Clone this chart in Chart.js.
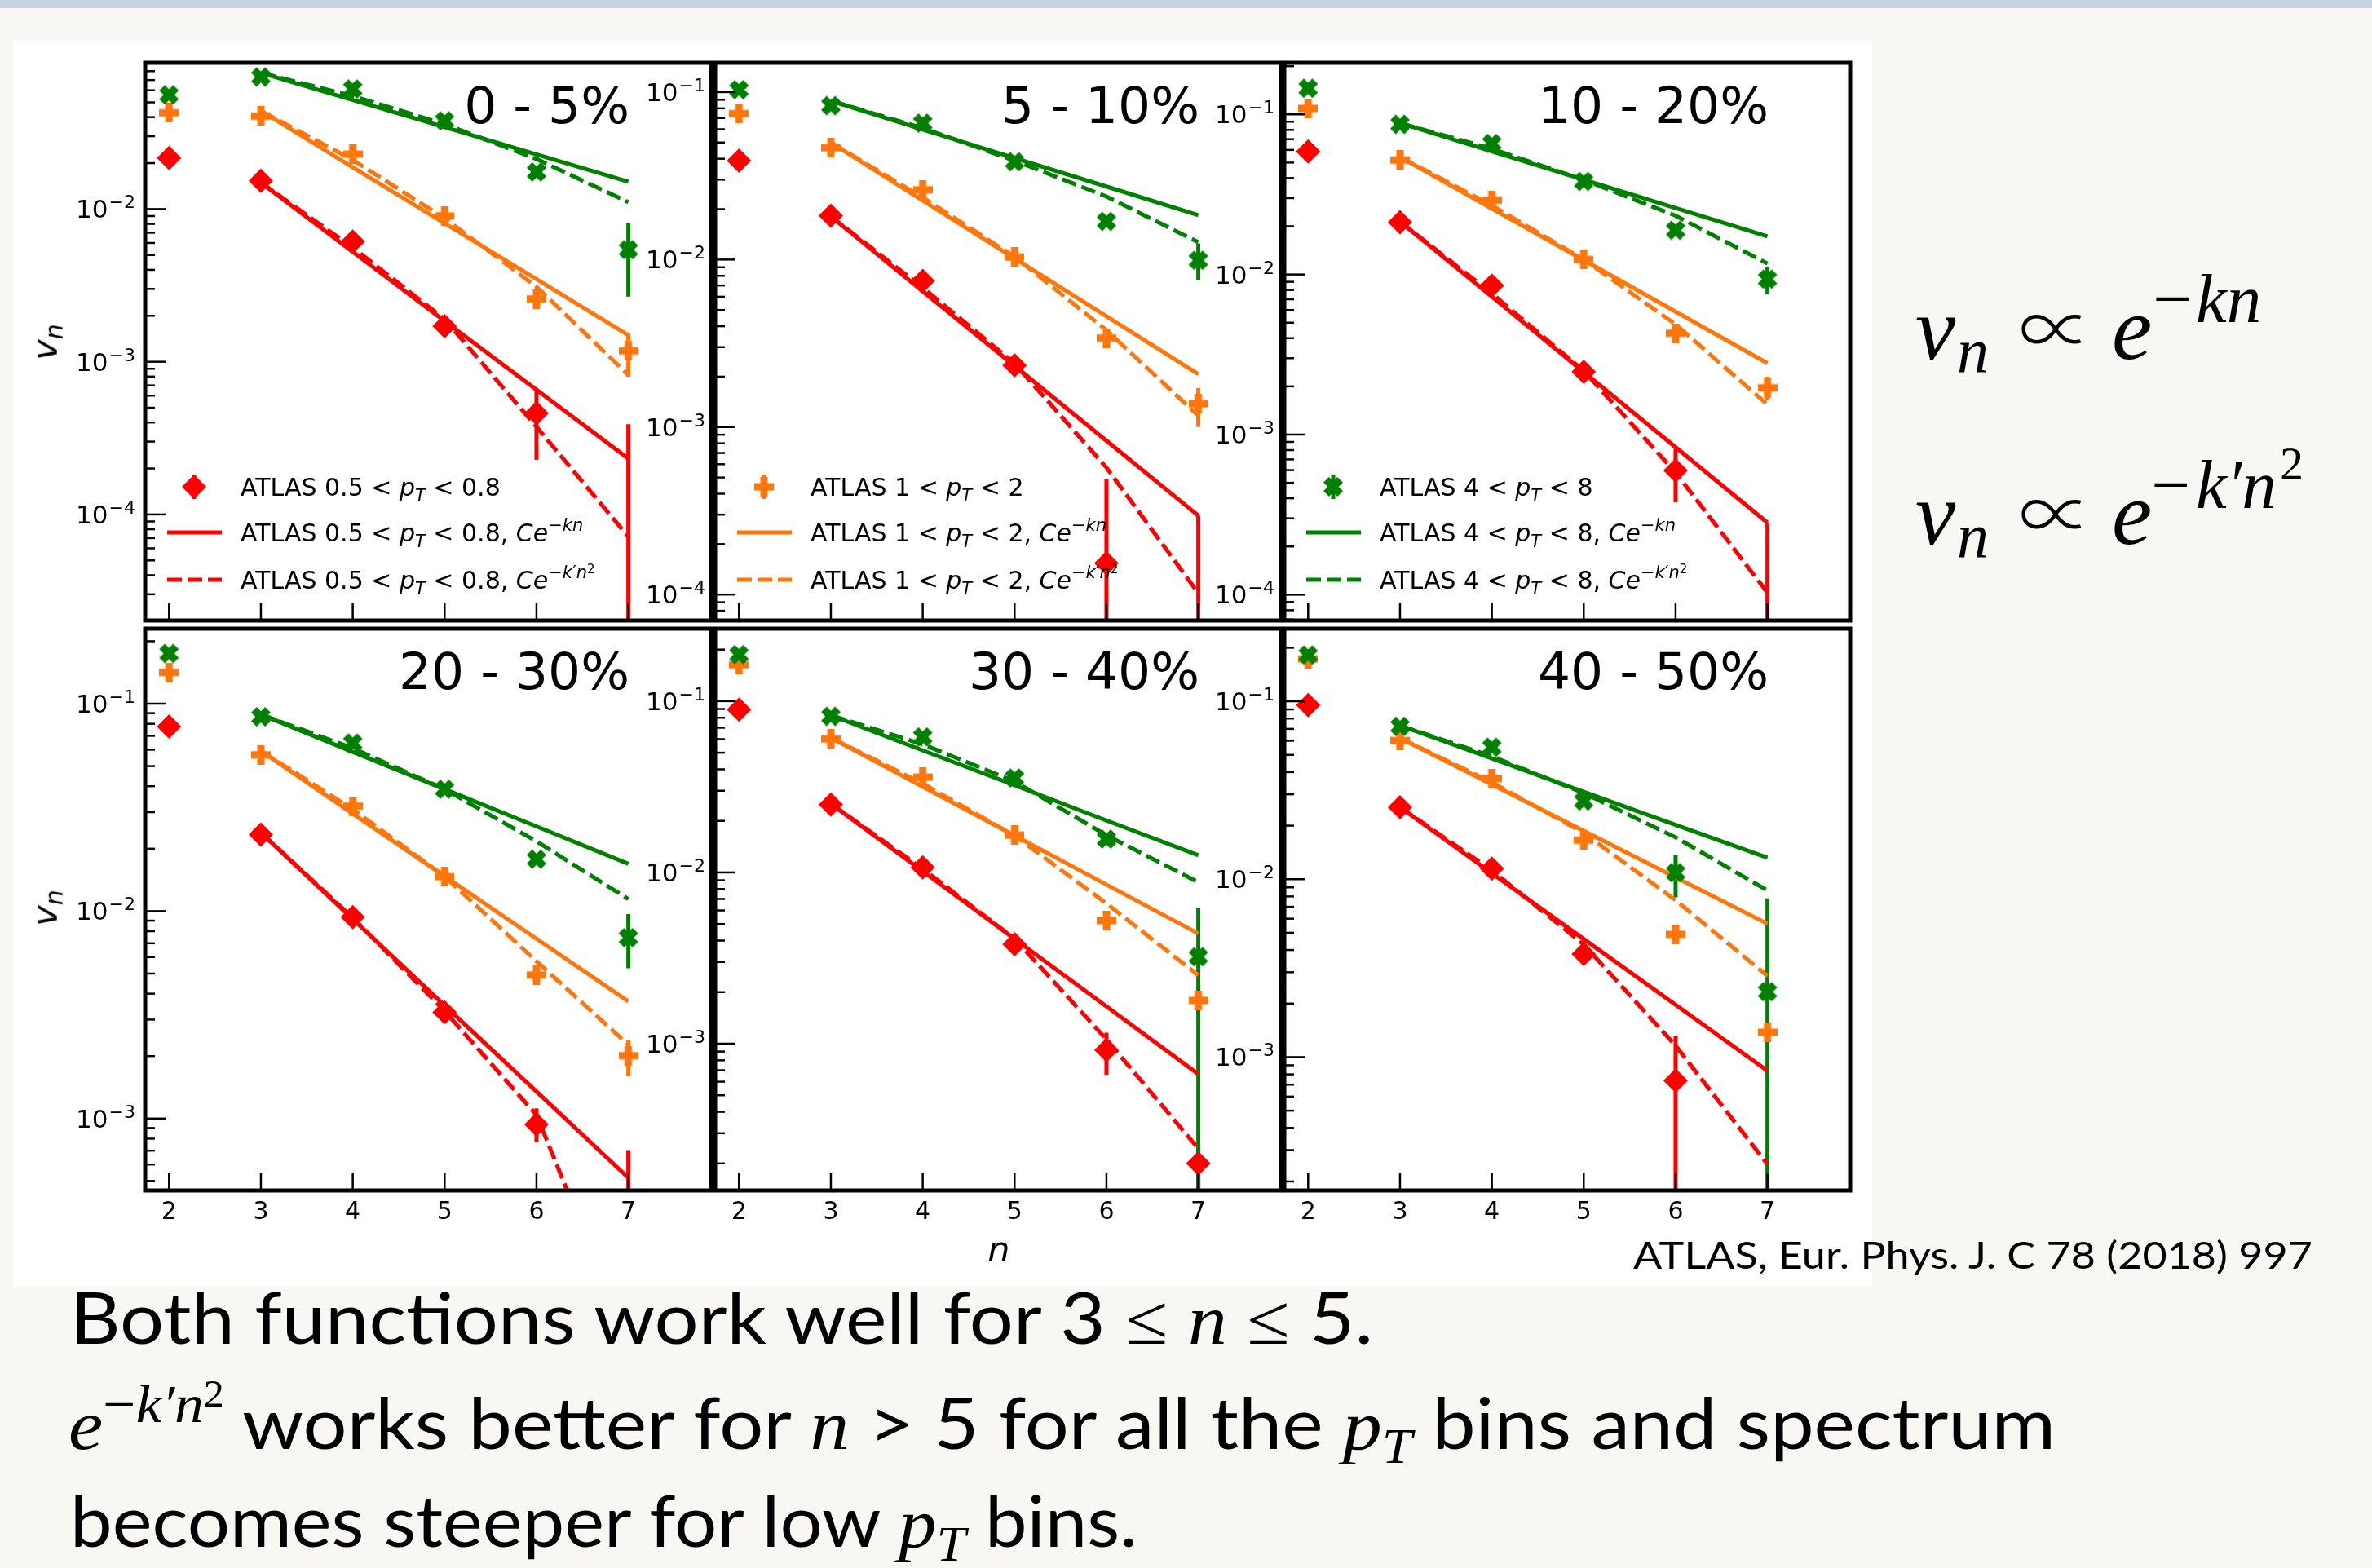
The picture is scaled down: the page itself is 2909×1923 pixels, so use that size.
<!DOCTYPE html>
<html>
<head>
<meta charset="utf-8">
<title>ATLAS v_n vs n</title>
<script src="https://cdn.jsdelivr.net/npm/chart.js@4.4.1/dist/chart.umd.min.js"></script>
<style>
  html,body{margin:0;padding:0;}
  body{width:2909px;height:1923px;background:#f8f7f4;position:relative;overflow:hidden;}
  #band{position:absolute;left:0;top:0;width:2909px;height:10px;background:#c5d2df;}
  #figure{position:absolute;left:16px;top:50px;width:2280px;height:1528px;background:#ffffff;}
  canvas{position:absolute;}
  .t{position:absolute;white-space:nowrap;line-height:1;color:#000;}
  .sans{font-family:Lato,"Open Sans",sans-serif;}
  .dv{font-family:"DejaVu Sans",sans-serif;}
  .m{font-family:"Liberation Serif","DejaVu Serif",serif;font-style:italic;}
  .prop{font-family:"DejaVu Sans ExtraLight","Noto Sans CJK JP","DejaVu Serif",serif;font-weight:200;font-style:normal;}
  .up{font-style:normal;}
  .sup{position:relative;top:-0.5em;font-size:0.75em;}
  .sup2{position:relative;top:-0.42em;font-size:0.7em;font-style:normal;}
  .sub{position:relative;top:0.28em;font-size:0.7em;}
  .dsub{position:relative;top:0.22em;font-size:0.7em;}
</style>
</head>
<body>
<div id="band"></div>
<div id="figure"></div>
<script>
// ---------------- data ----------------
const harmonicOrder = [2, 3, 4, 5, 6, 7];
const fitOrder = [3, 4, 5, 6, 7];
const centralityBins = ['0 - 5%', '5 - 10%', '10 - 20%', '20 - 30%', '30 - 40%', '40 - 50%'];
const ptBinEdges = [['0.5', '0.8'], ['1', '2'], ['4', '8']];
const yAxisMin = [2.02e-5, 7.1e-5, 6.9e-5, 4.5e-4, 1.39e-4, 1.78e-4];
const yAxisMax = [0.0908, 0.1496, 0.21, 0.23, 0.265, 0.256];
const xAxisRange = [1.74, 7.9];

// ATLAS 0.5 < pT < 0.8 (red), rows = centrality bins, columns = n = 2..7
const vnLowPt = [
  [0.0216, 0.0153, 0.00612, 0.00171, 4.6e-4, null],
  [0.039, 0.0183, 0.00745, 0.00234, 1.54e-4, null],
  [0.0586, 0.0212, 0.00853, 0.00247, 5.97e-4, null],
  [0.0776, 0.0234, 0.00935, 0.00325, 9.37e-4, null],
  [0.0892, 0.0249, 0.0107, 0.00381, 9.19e-4, 2.0e-4],
  [0.0951, 0.0254, 0.01146, 0.0038, 7.38e-4, null]
];
// ATLAS 1 < pT < 2 (orange)
const vnMidPt = [
  [0.0427, 0.0406, 0.0229, 0.0090, 0.00258, 0.00118],
  [0.0744, 0.0465, 0.0261, 0.01035, 0.0034, 0.00138],
  [0.109, 0.0518, 0.0291, 0.0124, 0.0043, 0.00196],
  [0.1415, 0.0567, 0.0321, 0.01466, 0.00492, 0.00201],
  [0.163, 0.0602, 0.036, 0.01653, 0.00524, 0.00179],
  [0.173, 0.0602, 0.0368, 0.01657, 0.0049, 0.00138]
];
// ATLAS 4 < pT < 8 (green)
const vnHighPt = [
  [0.0560, 0.0733, 0.0612, 0.0378, 0.0175, 0.00542],
  [0.1033, 0.083, 0.0652, 0.0384, 0.0169, 0.0099],
  [0.1456, 0.0867, 0.0659, 0.0381, 0.0189, 0.00935],
  [0.1746, 0.0865, 0.0646, 0.0387, 0.0178, 0.00745],
  [0.187, 0.0815, 0.0618, 0.0356, 0.01567, 0.00322],
  [0.182, 0.0723, 0.0552, 0.0275, 0.01087, 0.00233]
];
// visible error bars [low, high] (null = hidden by marker)
const errLowPt = [
  [null, null, null, null, [2.28e-4, 6.65e-4], [1e-6, 3.9e-4]],
  [null, null, null, null, [1e-6, 4.87e-4], [1e-6, 2.96e-4]],
  [null, null, null, null, [3.77e-4, 8.2e-4], [1e-6, 2.82e-4]],
  [null, null, null, null, [7.7e-4, 1.12e-3], [1e-6, 7.05e-4]],
  [null, null, null, null, [6.58e-4, 1.16e-3], [1e-6, 2.5e-4]],
  [null, null, null, null, [1e-6, 1.32e-3], null]
];
const errMidPt = [
  [null, null, null, null, null, [7.98e-4, 1.53e-3]],
  [null, null, null, null, null, [1.0e-3, 1.71e-3]],
  [null, null, null, null, null, [1.64e-3, 2.3e-3]],
  [null, null, null, null, [4.4e-3, 5.5e-3], [1.6e-3, 2.39e-3]],
  [null, null, null, null, null, [1.5e-3, 2.2e-3]],
  [null, null, null, null, null, null]
];
const errHighPt = [
  [null, null, null, null, null, [2.67e-3, 8.14e-3]],
  [null, null, null, null, null, [7.5e-3, 1.25e-2]],
  [null, null, null, null, null, [7.5e-3, 1.12e-2]],
  [null, null, null, null, null, [5.3e-3, 9.68e-3]],
  [null, null, null, null, null, [1e-6, 6.24e-3]],
  [null, null, null, null, [7.9e-3, 1.37e-2], [1e-6, 7.8e-3]]
];
// fits, n = 3..7 : Ce^{-kn} (solid) and Ce^{-k'n^2} (dashed)
const expFitLowPt = [
  [0.0149, 0.00525, 0.00185, 6.55e-4, 2.32e-4],
  [0.0181, 0.00647, 0.00232, 8.29e-4, 2.96e-4],
  [0.0214, 0.00726, 0.00246, 8.34e-4, 2.82e-4],
  [0.0239, 0.00916, 0.00351, 0.00135, 5.18e-4],
  [0.0252, 0.01016, 0.00409, 0.00165, 6.64e-4],
  [0.0254, 0.0108, 0.00461, 0.00197, 8.38e-4]
];
const gausFitLowPt = [
  [0.0149, 0.0056, 0.0019, 3.75e-4, 7.15e-5],
  [0.0181, 0.0068, 0.0024, 5.73e-4, 1.02e-4],
  [0.0214, 0.0076, 0.0025, 5.8e-4, 1.03e-4],
  [0.0239, 0.0093, 0.0033, 1.04e-3, 8.5e-5],
  [0.0252, 0.0105, 0.0041, 1.06e-3, 2.44e-4],
  [0.0254, 0.0112, 0.0043, 1.16e-3, 2.5e-4]
];
const expFitMidPt = [
  [0.0440, 0.0188, 0.00807, 0.00347, 0.00149],
  [0.0499, 0.0225, 0.01017, 0.00459, 0.00207],
  [0.0542, 0.0258, 0.0123, 0.00586, 0.00279],
  [0.0592, 0.0295, 0.01473, 0.00736, 0.00367],
  [0.0612, 0.0317, 0.0164, 0.00849, 0.0044],
  [0.0621, 0.0341, 0.01867, 0.01025, 0.00562]
];
const gausFitMidPt = [
  [0.0440, 0.0210, 0.0087, 0.0031, 8.2e-4],
  [0.0499, 0.0235, 0.0104, 0.00379, 0.00117],
  [0.0542, 0.027, 0.0124, 0.00488, 0.00154],
  [0.0592, 0.031, 0.0147, 0.00573, 0.00227],
  [0.0612, 0.033, 0.0164, 0.00659, 0.00251],
  [0.0621, 0.035, 0.0182, 0.00762, 0.00286]
];
const expFitHighPt = [
  [0.078, 0.0518, 0.0344, 0.0228, 0.0151],
  [0.0887, 0.0598, 0.0404, 0.0273, 0.0184],
  [0.0882, 0.0587, 0.0391, 0.026, 0.0173],
  [0.0888, 0.0586, 0.0387, 0.0256, 0.0169],
  [0.0827, 0.0516, 0.0323, 0.0201, 0.0126],
  [0.0731, 0.0477, 0.031, 0.0202, 0.0132]
];
const gausFitHighPt = [
  [0.078, 0.055, 0.036, 0.0213, 0.0111],
  [0.0887, 0.061, 0.039, 0.0238, 0.0127],
  [0.0882, 0.061, 0.039, 0.0233, 0.0117],
  [0.0888, 0.061, 0.0387, 0.0217, 0.01143],
  [0.0827, 0.056, 0.034, 0.0165, 0.00877],
  [0.0731, 0.049, 0.0305, 0.0172, 0.00865]
];

// ---------------- styling ----------------
const RED = '#ff0000', ORANGE = '#ff760d', GREEN = '#008000';
const LINE_W = 5, DASH = [18, 7];
Chart.defaults.font.family = '"DejaVu Sans", sans-serif';
Chart.defaults.color = '#000';

function plusMarker(color, size, arm) {
  const c = document.createElement('canvas');
  c.width = c.height = size;
  const g = c.getContext('2d');
  g.fillStyle = color;
  const t0 = (size - arm) / 2;
  g.fillRect(t0, 0, arm, size);
  g.fillRect(0, t0, size, arm);
  return c;
}
function xMarker(color, size, armRatio) {
  const c = document.createElement('canvas');
  c.width = c.height = size + 2;
  const g = c.getContext('2d');
  g.fillStyle = color;
  g.translate(c.width / 2, c.height / 2);
  g.rotate(Math.PI / 4);
  const len = size * Math.SQRT2 / (1 + armRatio), t = len * armRatio;
  g.fillRect(-t / 2, -len / 2, t, len);
  g.fillRect(-len / 2, -t / 2, len, t);
  return c;
}

const series = [
  { color: RED, vn: vnLowPt, err: errLowPt, exp: expFitLowPt, gaus: gausFitLowPt, marker: 'rectRot', order: 3 },
  { color: ORANGE, vn: vnMidPt, err: errMidPt, exp: expFitMidPt, gaus: gausFitMidPt, marker: plusMarker(ORANGE, 24, 9), order: 2 },
  { color: GREEN, vn: vnHighPt, err: errHighPt, exp: expFitHighPt, gaus: gausFitHighPt, marker: xMarker(GREEN, 24, 0.4), order: 1 }
];

const PANEL_LEFT = [178, 877, 1575];
const PANEL_TOP = [72, 766];
const PANEL_W = 699, PANEL_H = 694;
const PAD_L = 110, PAD_R = 10, PAD_T = 10;

function drawRich(ctx, x, y, segs, base) {
  for (const s of segs) {
    const size = base * (s.sz || 1);
    ctx.font = (s.it ? 'italic ' : '') + size + 'px "DejaVu Sans"';
    ctx.fillText(s.t, x, y + (s.dy || 0) * base);
    x += ctx.measureText(s.t).width;
  }
}
function legendSegs(col, kind) {
  const [lo, hi] = ptBinEdges[col];
  const segs = [{ t: 'ATLAS ' + lo + ' < ' }, { t: 'p', it: 1 }, { t: 'T', it: 1, sz: 0.7, dy: 0.22 }, { t: ' < ' + hi }];
  if (kind === 1) segs.push({ t: ', ' }, { t: 'Ce', it: 1 }, { t: '\u2212kn', it: 1, sz: 0.7, dy: -0.42 });
  if (kind === 2) segs.push({ t: ', ' }, { t: 'Ce', it: 1 }, { t: '\u2212k\u2032n', it: 1, sz: 0.7, dy: -0.42 }, { t: '2', sz: 0.5, dy: -0.62 });
  return segs;
}
function drawLegendMarker(ctx, style, color, x, y) {
  ctx.strokeStyle = color; ctx.lineWidth = LINE_W; ctx.setLineDash([]);
  ctx.beginPath(); ctx.moveTo(x, y - 15); ctx.lineTo(x, y + 15); ctx.stroke();
  ctx.fillStyle = color;
  if (typeof style === 'string') {
    const r = 15;
    ctx.beginPath(); ctx.moveTo(x, y - r); ctx.lineTo(x + r, y); ctx.lineTo(x, y + r); ctx.lineTo(x - r, y); ctx.closePath(); ctx.fill();
  } else {
    ctx.drawImage(style, x - style.width / 2, y - style.height / 2);
  }
}

function makeDeco(p) {
  const col = p % 3, row = Math.floor(p / 3);
  return {
    id: 'deco' + p,
    beforeDatasetsDraw(chart) {
      const { ctx, chartArea: a } = chart;
      const xs = chart.scales.x, ys = chart.scales.y;
      ctx.save();
      ctx.beginPath(); ctx.rect(a.left, a.top, a.right - a.left, a.bottom - a.top); ctx.clip();
      ctx.lineWidth = LINE_W; ctx.lineCap = 'butt';
      series.forEach(s => {
        s.err[p].forEach((e, i) => {
          if (!e) return;
          const px = xs.getPixelForValue(harmonicOrder[i]);
          ctx.strokeStyle = s.color;
          ctx.beginPath();
          ctx.moveTo(px, ys.getPixelForValue(e[0]));
          ctx.lineTo(px, ys.getPixelForValue(e[1]));
          ctx.stroke();
        });
      });
      ctx.restore();
    },
    afterDraw(chart) {
      const { ctx, chartArea: a } = chart;
      const xs = chart.scales.x, ys = chart.scales.y;
      ctx.save();
      ctx.strokeStyle = '#000'; ctx.fillStyle = '#000'; ctx.lineWidth = 2.5; ctx.setLineDash([]);
      // y ticks (inward) + labels
      const lo = Math.floor(Math.log10(yAxisMin[p])), hi = Math.ceil(Math.log10(yAxisMax[p]));
      for (let d = lo; d <= hi; d++) {
        for (let m = 1; m <= 9; m++) {
          const v = m * Math.pow(10, d);
          if (v < yAxisMin[p] || v > yAxisMax[p]) continue;
          const py = ys.getPixelForValue(v);
          ctx.beginPath(); ctx.moveTo(a.left, py); ctx.lineTo(a.left + (m === 1 ? 25 : 12), py); ctx.stroke();
          if (m === 1) {
            const ex = (d < 0 ? '\u2212' : '') + Math.abs(d);
            ctx.textAlign = 'left'; ctx.textBaseline = 'alphabetic';
            ctx.font = '22px "DejaVu Sans"'; const we = ctx.measureText(ex).width;
            ctx.font = '31px "DejaVu Sans"'; const wb = ctx.measureText('10').width;
            const xr = a.left - 12;
            ctx.fillText('10', xr - we - wb - 1, py + 11);
            ctx.font = '22px "DejaVu Sans"'; ctx.fillText(ex, xr - we, py - 1);
          }
        }
      }
      // x ticks (inward)
      harmonicOrder.forEach(n => {
        const px = xs.getPixelForValue(n);
        ctx.beginPath(); ctx.moveTo(px, a.bottom); ctx.lineTo(px, a.bottom - 21); ctx.stroke();
      });
      // frame
      ctx.lineWidth = 5;
      ctx.strokeRect(a.left, a.top, a.right - a.left, a.bottom - a.top);
      // centrality label
      ctx.font = '63px "DejaVu Sans"'; ctx.textAlign = 'right'; ctx.textBaseline = 'alphabetic';
      ctx.fillText(centralityBins[p], a.right - 100, a.top + 74);
      // legend (top row)
      if (row === 0) {
        const s = series[col];
        const rows = [a.bottom - 164, a.bottom - 108, a.bottom - 50];
        drawLegendMarker(ctx, s.marker, s.color, a.left + 60, rows[0]);
        ctx.strokeStyle = s.color; ctx.lineWidth = LINE_W;
        ctx.setLineDash([]);
        ctx.beginPath(); ctx.moveTo(a.left + 27, rows[1]); ctx.lineTo(a.left + 94, rows[1]); ctx.stroke();
        ctx.setLineDash(DASH);
        ctx.beginPath(); ctx.moveTo(a.left + 27, rows[2]); ctx.lineTo(a.left + 94, rows[2]); ctx.stroke();
        ctx.setLineDash([]);
        ctx.fillStyle = '#000'; ctx.textAlign = 'left';
        for (let k = 0; k < 3; k++) drawRich(ctx, a.left + 117, rows[k] + 11, legendSegs(col, k), 30);
      }
      ctx.restore();
    }
  };
}

for (let p = 0; p < 6; p++) {
  const col = p % 3, row = Math.floor(p / 3);
  const padB = row === 1 ? 70 : 10;
  const cv = document.createElement('canvas');
  cv.width = PAD_L + PANEL_W + PAD_R;
  cv.height = PAD_T + PANEL_H + padB;
  cv.style.left = (PANEL_LEFT[col] - PAD_L) + 'px';
  cv.style.top = (PANEL_TOP[row] - PAD_T) + 'px';
  document.body.appendChild(cv);

  const datasets = [];
  series.forEach(s => {
    datasets.push({
      data: fitOrder.map((n, i) => ({ x: n, y: s.exp[p][i] })),
      borderColor: s.color, borderWidth: LINE_W, pointRadius: 0, tension: 0, fill: false, order: 5
    });
    datasets.push({
      data: fitOrder.map((n, i) => ({ x: n, y: s.gaus[p][i] })),
      borderColor: s.color, borderWidth: LINE_W, borderDash: DASH, pointRadius: 0, tension: 0, fill: false, order: 5
    });
  });
  series.forEach(s => {
    datasets.push({
      data: harmonicOrder.map((n, i) => ({ x: n, y: s.vn[p][i] })),
      showLine: false, pointStyle: s.marker, pointRadius: 15, pointHoverRadius: 15,
      backgroundColor: s.color, borderColor: s.color, borderWidth: 0, order: s.order
    });
  });

  new Chart(cv, {
    type: 'line',
    data: { datasets },
    options: {
      responsive: false, animation: false, devicePixelRatio: 1,
      layout: { padding: { left: 0, top: PAD_T, right: PAD_R, bottom: 0 } },
      plugins: { legend: { display: false }, tooltip: { enabled: false } },
      scales: {
        x: {
          type: 'linear', min: xAxisRange[0], max: xAxisRange[1],
          afterFit(s) { s.height = padB; },
          afterBuildTicks(s) { s.ticks = harmonicOrder.map(v => ({ value: v })); },
          grid: { display: false }, border: { display: false },
          ticks: { display: row === 1, font: { size: 30, family: '"DejaVu Sans"' }, color: '#000', padding: 1, maxRotation: 0, autoSkip: false }
        },
        y: {
          type: 'logarithmic', min: yAxisMin[p], max: yAxisMax[p],
          afterFit(s) { s.width = PAD_L; },
          grid: { display: false }, border: { display: false },
          ticks: { display: false }
        }
      }
    },
    plugins: [makeDeco(p)]
  });
}

// ---------------- HTML text ----------------
function placeText(html, cls, x, baseline, opts) {
  opts = opts || {};
  const el = document.createElement('div');
  el.className = 't ' + cls;
  if (opts.size) el.style.fontSize = opts.size + 'px';
  el.innerHTML = html;
  el.style.left = '0px'; el.style.top = '0px';
  document.body.appendChild(el);
  const mk = document.createElement('span');
  mk.style.cssText = 'display:inline-block;width:0;height:0;vertical-align:baseline;';
  el.appendChild(mk);
  const er = el.getBoundingClientRect();
  const off = mk.getBoundingClientRect().top - er.top;
  const w = er.width;
  const sx = opts.width ? opts.width / w : 1;
  let left = x;
  if (opts.align === 'center') left = x - (w * sx) / 2;
  el.style.left = left + 'px';
  el.style.top = (baseline - off) + 'px';
  if (sx !== 1) { el.style.transformOrigin = '0 0'; el.style.transform = 'scaleX(' + sx + ')'; }
  return el;
}
function placeRotated(html, cls, size, cx, cy) {
  const el = document.createElement('div');
  el.className = 't ' + cls;
  el.style.fontSize = size + 'px';
  el.innerHTML = html;
  document.body.appendChild(el);
  const r = el.getBoundingClientRect();
  el.style.left = (cx - r.width / 2) + 'px';
  el.style.top = (cy - r.height / 2) + 'px';
  el.style.transform = 'rotate(-90deg)';
}

// axis labels
placeRotated('<i>v</i><i class="dsub">n</i>', 'dv', 43, 55, 419);
placeRotated('<i>v</i><i class="dsub">n</i>', 'dv', 43, 55, 1113);
placeText('<i>n</i>', 'dv', 1225, 1547, { size: 43, align: 'center' });

// citation
placeText('ATLAS, Eur. Phys. J. C 78 (2018) 997', 'sans', 2003, 1556, { size: 47, width: 833 });

// equations
function eqPiece(t, x, bl, size, cls, width) {
  placeText(t, cls, x, bl, { size: size, width: width });
}
eqPiece('v', 2349, 440, 111, 'm');
eqPiece('n', 2400, 457, 78, 'm');
eqPiece('\u221d', 2476, 437, 90, 'prop');
eqPiece('e', 2590, 440, 111, 'm');
eqPiece('\u2212', 2640, 395, 85, 'm up', 48);
eqPiece('kn', 2693, 395, 85, 'm');

eqPiece('v', 2349, 667, 111, 'm');
eqPiece('n', 2400, 684, 78, 'm');
eqPiece('\u221d', 2476, 664, 90, 'prop');
eqPiece('e', 2590, 667, 111, 'm');
eqPiece('\u2212', 2638, 623, 85, 'm up', 48);
eqPiece('k\u2032n', 2693, 623, 85, 'm');
eqPiece('2', 2796, 588, 58, 'm up');

// bottom text
placeText('Both functions work well for 3 <span class="m up">\u2264</span> <span class="m">n</span> <span class="m up">\u2264</span> 5.',
  'sans', 86, 1648, { size: 87, width: 1598 });
placeText('<span class="m">e</span><span class="m sup"><span class="up">\u2212</span>k\u2032n<span class="sup2">2</span></span> works better for <span class="m">n</span> &gt; 5 for all the <span class="m">p</span><span class="m sub">T</span> bins and spectrum',
  'sans', 84, 1777, { size: 87, width: 2437 });
placeText('becomes steeper for low <span class="m">p</span><span class="m sub">T</span> bins.',
  'sans', 86, 1897, { size: 87, width: 1309 });
</script>
</body>
</html>
